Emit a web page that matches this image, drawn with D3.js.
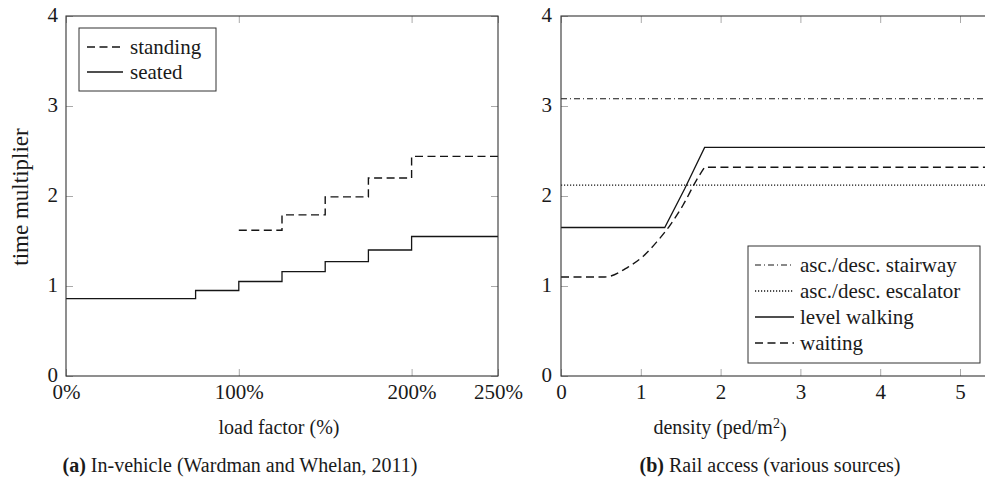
<!DOCTYPE html>
<html>
<head>
<meta charset="utf-8">
<script src="https://cdn.jsdelivr.net/npm/d3@7"></script>
<style>
  html, body { margin: 0; padding: 0; background: #fff; }
  svg { display: block; }
  text { font-family: "Liberation Serif", "Times New Roman", serif; fill: #1a1a1a; }
</style>
</head>
<body>
<svg id="chart" width="985" height="480"></svg>
<script>
// ---------- data (panel a: in-vehicle) ----------
const loadTicks = [0, 100, 200, 250];
const loadTickLabels = ["0%", "100%", "200%", "250%"];
const seatedBreaks = [0, 75, 100, 125, 150, 175, 200, 250];
const seatedValues = [0.86, 0.95, 1.05, 1.16, 1.27, 1.40, 1.55];
const standingBreaks = [100, 125, 150, 175, 200, 250];
const standingValues = [1.62, 1.79, 1.99, 2.20, 2.44];
const multTicks = [0, 1, 2, 3, 4];

// ---------- data (panel b: rail access) ----------
const densityTicks = [0, 1, 2, 3, 4, 5];
const densityMax = 5.35;
const stairwayValue = 3.08;
const escalatorValue = 2.12;
const walkingX = [0, 1.30, 1.55, 1.80, 5.35];
const walkingY = [1.65, 1.65, 2.08, 2.54, 2.54];
const waitingX = [0, 0.55, 0.84, 1.03, 1.20, 1.37, 1.53, 1.70, 1.80];
const waitingY = [1.10, 1.10, 1.21, 1.33, 1.49, 1.68, 1.90, 2.18, 2.32];
const waitingEnd = [5.35, 2.32];

const svg = d3.select("#chart");
const FS = 21;
const TOP = 16, BOTTOM = 376;
const lineColor = "#151515";
const frameColor = "#333";
const tickColor = "#aaa";
const DASH = "8 4.5";

function styleAxis(g, showLabels) {
  g.select(".domain").remove();
  g.selectAll(".tick line").attr("stroke", tickColor).attr("stroke-width", 1);
  g.selectAll(".tick text").style("font-size", FS + "px")
    .style("font-family", '"Liberation Serif", serif').attr("fill", "#1a1a1a");
  if (!showLabels) g.selectAll(".tick text").remove();
}

function frame(x0, x1) {
  svg.append("rect").attr("x", x0).attr("y", TOP).attr("width", x1 - x0).attr("height", BOTTOM - TOP)
    .attr("fill", "none").attr("stroke", frameColor).attr("stroke-width", 1.1);
}

// ================= Panel (a) =================
const xa = d3.scaleLinear().domain([0, 250]).range([66, 498]);
const ya = d3.scaleLinear().domain([0, 4]).range([BOTTOM, TOP]);

svg.append("g").attr("transform", `translate(0,${BOTTOM})`)
  .call(d3.axisBottom(xa).tickValues(loadTicks).tickFormat((d, i) => loadTickLabels[i]).tickSizeInner(-7).tickSizeOuter(0).tickPadding(8))
  .call(g => styleAxis(g, true));
svg.append("g").attr("transform", `translate(0,${TOP})`)
  .call(d3.axisTop(xa).tickValues(loadTicks).tickSizeInner(-7).tickSizeOuter(0))
  .call(g => styleAxis(g, false));
svg.append("g").attr("transform", `translate(${xa.range()[0]},0)`)
  .call(d3.axisLeft(ya).tickValues(multTicks).tickFormat(d3.format("d")).tickSizeInner(-7).tickSizeOuter(0).tickPadding(8))
  .call(g => styleAxis(g, true))
  .call(g => g.selectAll(".tick text").attr("dy", "0.25em"));
svg.append("g").attr("transform", `translate(${xa.range()[1]},0)`)
  .call(d3.axisRight(ya).tickValues(multTicks).tickSizeInner(-7).tickSizeOuter(0))
  .call(g => styleAxis(g, false));

const stepLine = d3.line().x(d => xa(d[0])).y(d => ya(d[1])).curve(d3.curveStepAfter);
const seatedPts = seatedBreaks.map((b, i) => [b, seatedValues[Math.min(i, seatedValues.length - 1)]]);
const standingPts = standingBreaks.map((b, i) => [b, standingValues[Math.min(i, standingValues.length - 1)]]);

svg.append("path").attr("d", stepLine(seatedPts)).attr("fill", "none")
  .attr("stroke", lineColor).attr("stroke-width", 1.3);
svg.append("path").attr("d", stepLine(standingPts)).attr("fill", "none")
  .attr("stroke", lineColor).attr("stroke-width", 1.4).attr("stroke-dasharray", DASH);

frame(66, 498);

// legend a
const legA = svg.append("g");
legA.append("rect").attr("x", 79).attr("y", 28).attr("width", 137).attr("height", 63)
  .attr("fill", "#fff").attr("stroke", frameColor).attr("stroke-width", 1);
[{ name: "standing", dash: DASH, y: 47 }, { name: "seated", dash: null, y: 72 }].forEach(e => {
  legA.append("line").attr("x1", 87).attr("x2", 123).attr("y1", e.y).attr("y2", e.y)
    .attr("stroke", lineColor).attr("stroke-width", 1.4).attr("stroke-dasharray", e.dash);
  legA.append("text").attr("x", 130).attr("y", e.y).attr("dy", "0.32em")
    .style("font-size", FS + "px").text(e.name);
});

svg.append("text").attr("transform", "translate(21,197) rotate(-90)").attr("text-anchor", "middle")
  .attr("dy", "0.32em").style("font-size", "23px").text("time multiplier");
svg.append("text").attr("x", 279).attr("y", 428).attr("text-anchor", "middle").attr("dy", "0.32em")
  .style("font-size", "20px").text("load factor (%)");
const capA = svg.append("text").attr("x", 240).attr("y", 466).attr("text-anchor", "middle").attr("dy", "0.32em")
  .style("font-size", "20px");
capA.append("tspan").style("font-weight", "bold").text("(a)");
capA.append("tspan").text(" In-vehicle (Wardman and Whelan, 2011)");

// ================= Panel (b) =================
const xb = d3.scaleLinear().domain([0, densityMax]).range([561, 561 + densityMax * 79.8]);
const yb = d3.scaleLinear().domain([0, 4]).range([BOTTOM, TOP]);

svg.append("g").attr("transform", `translate(0,${BOTTOM})`)
  .call(d3.axisBottom(xb).tickValues(densityTicks).tickFormat(d3.format("d")).tickSizeInner(-7).tickSizeOuter(0).tickPadding(8))
  .call(g => styleAxis(g, true));
svg.append("g").attr("transform", `translate(0,${TOP})`)
  .call(d3.axisTop(xb).tickValues(densityTicks).tickSizeInner(-7).tickSizeOuter(0))
  .call(g => styleAxis(g, false));
svg.append("g").attr("transform", `translate(${xb.range()[0]},0)`)
  .call(d3.axisLeft(yb).tickValues(multTicks).tickFormat(d3.format("d")).tickSizeInner(-7).tickSizeOuter(0).tickPadding(9))
  .call(g => styleAxis(g, true))
  .call(g => g.selectAll(".tick text").attr("dy", "0.25em"));

const lineB = d3.line().x(d => xb(d[0])).y(d => yb(d[1]));
// stairway
svg.append("path").attr("d", lineB([[0, stairwayValue], [densityMax, stairwayValue]])).attr("fill", "none")
  .attr("stroke", lineColor).attr("stroke-width", 1.1).attr("stroke-dasharray", "6 3 1 3");
// escalator
svg.append("path").attr("d", lineB([[0, escalatorValue], [densityMax, escalatorValue]])).attr("fill", "none")
  .attr("stroke", lineColor).attr("stroke-width", 1.3).attr("stroke-dasharray", "1.2 1.8");
// level walking
svg.append("path").attr("d", lineB(walkingX.map((x, i) => [x, walkingY[i]]))).attr("fill", "none")
  .attr("stroke", lineColor).attr("stroke-width", 1.3);
// waiting
const waitCurve = d3.line().x(d => xb(d[0])).y(d => yb(d[1])).curve(d3.curveMonotoneX);
const waitD = waitCurve(waitingX.map((x, i) => [x, waitingY[i]])) + "L" + xb(waitingEnd[0]) + "," + yb(waitingEnd[1]);
svg.append("path").attr("d", waitD).attr("fill", "none")
  .attr("stroke", lineColor).attr("stroke-width", 1.4).attr("stroke-dasharray", DASH);

frame(561, xb.range()[1]);

// legend b
const legB = svg.append("g");
legB.append("rect").attr("x", 748).attr("y", 246).attr("width", 232).attr("height", 117)
  .attr("fill", "#fff").attr("stroke", frameColor).attr("stroke-width", 1);
[
  { name: "asc./desc. stairway", dash: "6 3 1 3", w: 1.1, y: 265 },
  { name: "asc./desc. escalator", dash: "1.2 1.8", w: 1.3, y: 291 },
  { name: "level walking", dash: null, w: 1.3, y: 317 },
  { name: "waiting", dash: DASH, w: 1.4, y: 343 }
].forEach(e => {
  legB.append("line").attr("x1", 755).attr("x2", 794).attr("y1", e.y).attr("y2", e.y)
    .attr("stroke", lineColor).attr("stroke-width", e.w).attr("stroke-dasharray", e.dash);
  legB.append("text").attr("x", 800).attr("y", e.y).attr("dy", "0.32em")
    .style("font-size", FS + "px").text(e.name);
});

const xlabB = svg.append("text").attr("x", 720).attr("y", 428).attr("text-anchor", "middle").attr("dy", "0.32em")
  .style("font-size", "20px");
xlabB.append("tspan").text("density (ped/m");
xlabB.append("tspan").attr("dy", "-0.45em").style("font-size", "14px").text("2");
xlabB.append("tspan").attr("dy", "0.45em").text(")");

const capB = svg.append("text").attr("x", 770).attr("y", 466).attr("text-anchor", "middle").attr("dy", "0.32em")
  .style("font-size", "20px");
capB.append("tspan").style("font-weight", "bold").text("(b)");
capB.append("tspan").text(" Rail access (various sources)");
</script>
</body>
</html>
